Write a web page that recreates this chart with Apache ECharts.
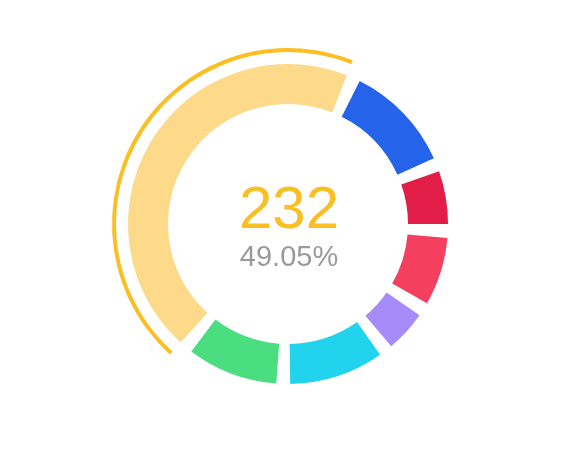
<!DOCTYPE html>
<html>
<head>
<meta charset="utf-8">
<script src="https://cdn.jsdelivr.net/npm/echarts@6/dist/echarts.min.js"></script>
<style>
html,body{margin:0;padding:0;background:#fff;}
#chart{width:577px;height:454px;}
</style>
</head>
<body>
<div id="chart"></div>
<script>
// Data (order is clockwise starting at 3 o'clock)
const categories = ['E', 'F', 'G', 'H', 'A', 'B', 'C'];
const values = [36, 22, 50, 48, 232, 57, 28];
const colors = ['#F43F5E', '#A78BFA', '#22D3EE', '#4ADE80', '#FBBF24', '#2563EB', '#E11D48'];
const highlightIndex = 4;
const highlightFill = '#FDD98A';

const GAP_DEG = 5;
const total = values.reduce((a, b) => a + b, 0);
const gapValue = total * GAP_DEG / (360 - GAP_DEG * values.length);

function buildData(forArc) {
  const out = [];
  values.forEach((v, i) => {
    out.push({ name: '_gap' + i, value: gapValue, itemStyle: { color: 'rgba(0,0,0,0)' } });
    let color;
    if (forArc) color = i === highlightIndex ? colors[i] : 'rgba(0,0,0,0)';
    else color = i === highlightIndex ? highlightFill : colors[i];
    out.push({ name: categories[i], value: v, itemStyle: { color: color } });
  });
  return out;
}

const hv = values[highlightIndex];
const pct = (hv / total * 100).toFixed(2) + '%';

const chart = echarts.init(document.getElementById('chart'), null, { renderer: 'canvas' });
chart.setOption({
  animation: false,
  backgroundColor: '#fff',
  series: [
    {
      type: 'pie',
      center: [288, 224],
      radius: [120, 160],
      startAngle: 0,
      clockwise: true,
      silent: true,
      label: { show: false },
      labelLine: { show: false },
      data: buildData(false)
    },
    {
      type: 'pie',
      center: [288, 224],
      radius: [172, 176],
      startAngle: 0,
      clockwise: true,
      silent: true,
      label: { show: false },
      labelLine: { show: false },
      data: buildData(true)
    }
  ],
  graphic: [
    {
      type: 'text',
      x: 289, y: 211,
      style: {
        text: String(hv),
        fill: '#FBBF24',
        font: '60px "Liberation Sans", Arial, sans-serif',
        textAlign: 'center',
        textVerticalAlign: 'middle'
      }
    },
    {
      type: 'text',
      x: 289, y: 258,
      style: {
        text: pct,
        fill: '#9A9A9A',
        font: '29px "Liberation Sans", Arial, sans-serif',
        textAlign: 'center',
        textVerticalAlign: 'middle'
      }
    }
  ]
});
</script>
</body>
</html>
